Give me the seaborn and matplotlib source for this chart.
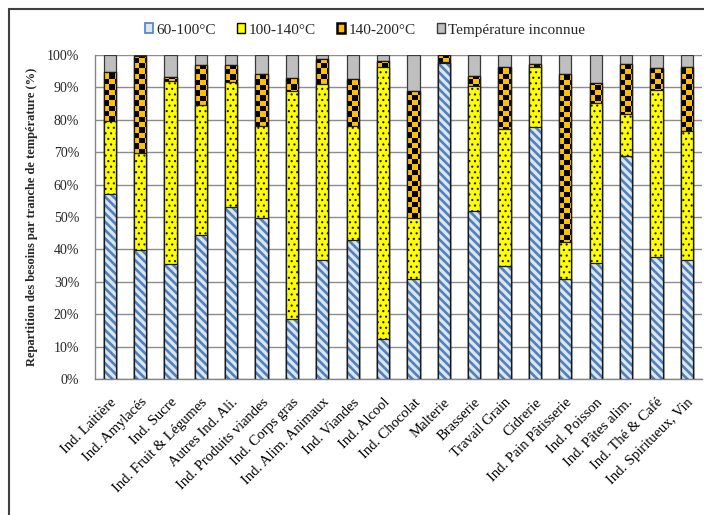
import numpy as np
import pandas as pd
import matplotlib
matplotlib.use("Agg")
import matplotlib.pyplot as plt
import seaborn as sns
from matplotlib.patches import Patch, Rectangle
from matplotlib.colors import ListedColormap

categories = ["Ind. Laitière", "Ind. Amylacés", "Ind. Sucre", "Ind. Fruit & Légumes",
              "Autres Ind. Ali.", "Ind. Produits viandes", "Ind. Corps gras",
              "Ind. Alim. Animaux", "Ind. Viandes", "Ind. Alcool", "Ind. Chocolat",
              "Malterie", "Brasserie", "Travail Grain", "Cidrerie", "Ind. Pain Pâtisserie",
              "Ind. Poisson", "Ind. Pâtes alim.", "Ind. Thé & Café", "Ind. Spiritueux, Vin"]
t60_100 = [57.0, 39.7, 35.5, 44.3, 53.0, 49.8, 18.4, 36.7, 42.8, 12.3, 31.0,
           97.6, 52.0, 35.0, 77.7, 30.8, 35.7, 68.9, 37.8, 36.7]
t100_140 = [22.6, 30.0, 56.6, 40.3, 38.6, 28.2, 70.6, 54.2, 35.4, 84.1, 18.8,
            0.3, 38.4, 42.1, 18.5, 11.6, 49.4, 12.9, 51.4, 39.8]
t140_200 = [15.2, 30.1, 1.2, 12.3, 5.3, 16.0, 4.0, 8.0, 14.3, 1.7, 39.1,
            2.0, 3.2, 19.3, 0.9, 51.7, 6.2, 15.4, 6.8, 19.9]
t_inconnue = [5.2, 0.2, 6.7, 3.1, 3.1, 6.0, 7.0, 1.1, 7.5, 1.9, 11.1,
              0.1, 6.4, 3.6, 2.9, 5.9, 8.7, 2.8, 4.0, 3.6]
series_labels = ["60-100°C", "100-140°C", "140-200°C", "Température inconnue"]
ytick_values = list(range(0, 101, 10))
ytick_labels = [f"{v}%" for v in ytick_values]
ylabel = "Repartition des besoins par tranche de température (%)"

sns.set_theme(style="white")
plt.rcParams["font.family"] = ["Liberation Serif", "DejaVu Serif"]

W, H = 704, 515
fig = plt.figure(figsize=(W / 100, H / 100), dpi=100)
left_px, right_px, top_px, bot_px = 94.5, 702, 55, 379
ax = fig.add_axes([left_px / W, 1 - bot_px / H, (right_px - left_px) / W, (bot_px - top_px) / H])

df = pd.DataFrame({"cat": categories, "b": t60_100, "y": t100_140, "o": t140_200, "g": t_inconnue})
df["c1"] = df["b"]
df["c2"] = df["c1"] + df["y"]
df["c3"] = df["c2"] + df["o"]
df["c4"] = df["c3"] + df["g"]

BW = 0.4
EDGE = "#1a1a1a"


def bars(col, z, **kw):
    before = len(ax.patches)
    sns.barplot(data=df, x="cat", y=col, width=BW, ax=ax, saturation=1, zorder=z, **kw)
    return ax.patches[before:]


def set_hlw(patches, lw):
    for p in patches:
        if hasattr(p, "set_hatch_linewidth"):
            p.set_hatch_linewidth(lw)


# gray (unknown) layer
bars("c4", 2, color="#bfbfbf", edgecolor="#3a3a3a", linewidth=0.9)

# orange layer with checkerboard
orange = bars("c3", 3, color="#ffc000", edgecolor=EDGE, linewidth=0.9)
cmap = ListedColormap(["#ffc000", "#000000"])
sq_w = BW / 2.4
sq_h = 1.65
for p in orange:
    x0, y0, w, h = p.get_x(), p.get_y(), p.get_width(), p.get_height()
    nr = int(np.ceil(h / sq_h)) + 1
    nc = 3
    board = (np.add.outer(np.arange(nr), np.arange(nc)) % 2).astype(float)
    im = ax.imshow(board, cmap=cmap, vmin=0, vmax=1, origin="lower", interpolation="nearest",
                   extent=[x0, x0 + nc * sq_w, y0, y0 + nr * sq_h], aspect="auto", zorder=3.2)
    im.set_clip_path(p)
bars("c3", 3.4, fill=False, color=EDGE, linewidth=0.9)

# yellow layer with dots
plt.rcParams["hatch.linewidth"] = 0.8
yel = bars("c2", 4, color="#ffff00", edgecolor=EDGE, linewidth=0.9, hatch="...")
set_hlw(yel, 0.8)

# blue layer with diagonal stripes
plt.rcParams["hatch.linewidth"] = 1.9
blue = bars("c1", 5, color="#dce6f2", edgecolor="#4f81bd", linewidth=0, hatch="\\\\\\\\")
set_hlw(blue, 1.9)
bars("c1", 5.5, fill=False, color=EDGE, linewidth=0.9)

ax.set_xlim(-0.5, len(categories) - 0.5)
ax.set_ylim(0, 100)
ax.set_xlabel("")
ax.set_ylabel(ylabel, fontsize=9, fontweight="bold")
ax.yaxis.set_label_coords((38 - left_px) / (right_px - left_px), 0.5)
ax.set_yticks(ytick_values)
ax.set_yticklabels(ytick_labels, fontsize=10)
ax.set_xticks(range(len(categories)))
ax.set_xticklabels(categories, rotation=45, ha="right", rotation_mode="anchor", fontsize=10.5)
ax.set_xticks(np.arange(-0.5, len(categories), 1), minor=True)
ax.tick_params(axis="x", which="major", length=0, pad=12, colors="black")
ax.tick_params(axis="x", which="minor", length=5, width=1, color="#868686", direction="out")
ax.tick_params(axis="y", which="major", length=5, width=1, color="#868686", direction="out", pad=6)
ax.yaxis.grid(True, color="#8c8c8c", linewidth=1)
ax.xaxis.grid(False)
ax.set_axisbelow(True)
for s in ["top", "right"]:
    ax.spines[s].set_visible(False)
for s in ["left", "bottom"]:
    ax.spines[s].set_color("#868686")
    ax.spines[s].set_linewidth(1)

handles = [
    Patch(facecolor="#dce6f2", edgecolor="#4f81bd", linewidth=1.2),
    Patch(facecolor="#ffff00", edgecolor="#000000", linewidth=1.0),
    Patch(facecolor="#ffc000", edgecolor="#000000", linewidth=1.8),
    Patch(facecolor="#bfbfbf", edgecolor="#3a3a3a", linewidth=1.0),
]
fig.legend(handles, series_labels, loc="center", bbox_to_anchor=(365 / W, 1 - 30 / H), ncol=4,
           frameon=False, fontsize=11, handlelength=0.55, handleheight=0.55, handletextpad=0.2,
           columnspacing=1.4, borderpad=0)

# outer chart border (cropped at right and bottom)
fig.patches.append(Rectangle((9 / W, -0.1), 1.2, 1 - 9.3 / H + 0.1, transform=fig.transFigure,
                             fill=False, edgecolor="#404040", linewidth=1.5))

fig.savefig("out.png", dpi=100)
